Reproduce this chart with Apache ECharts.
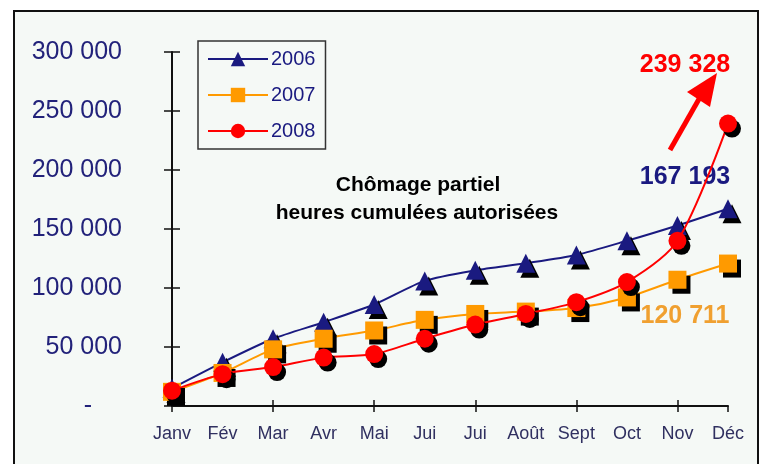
<!DOCTYPE html>
<html>
<head>
<meta charset="utf-8">
<script src="https://cdn.jsdelivr.net/npm/echarts@6/dist/echarts.min.js"></script>
<style>
html,body{margin:0;padding:0;background:#fff;}
#c{width:766px;height:464px;}
</style>
</head>
<body>
<div id="c"></div>
<script>
var months = ['Janv','Fév','Mar','Avr','Mai','Jui','Jui','Août','Sept','Oct','Nov','Déc'];
var s2006 = [15000, 37000, 57000, 71000, 86000, 106000, 115000, 121000, 128000, 140000, 153000, 167193];
var s2007 = [12000, 28000, 48000, 57000, 64000, 73000, 78000, 80000, 83000, 92000, 107000, 120711];
var s2008 = [13000, 27000, 33000, 41000, 44000, 57000, 69000, 78000, 88000, 105000, 140000, 239328];
var seriesNames = ['2006','2007','2008'];
var yTicks = [0, 50000, 100000, 150000, 200000, 250000, 300000];

var NAVY = '#1a1a80', ORANGE = '#ff9a00', RED = '#ff0000';
var sans = '"Liberation Sans", Arial, sans-serif';

function fmt(v){
  if (v === 0) return '{d|-}';
  var s = String(v);
  return s.slice(0, s.length-3) + ' ' + s.slice(-3);
}
var shadow = {shadowColor:'#000', shadowOffsetX:4, shadowOffsetY:5, shadowBlur:0};

var chart = echarts.init(document.getElementById('c'), null, {renderer:'canvas'});
chart.setOption({
  backgroundColor:'#ffffff',
  animation:false,
  grid:{left:172, right:38, top:52, bottom:58},
  legend:{
    orient:'vertical', left:198, top:41,
    data:seriesNames,
    itemWidth:60, itemHeight:18, itemGap:16,
    padding:[8,10,8,9],
    borderColor:'#333', borderWidth:1.5,
    textStyle:{color:NAVY, fontFamily:sans, fontSize:20, padding:[0,0,0,-2]}
  },
  xAxis:[{
    type:'category', data:months, boundaryGap:false,
    axisLine:{lineStyle:{color:'#111', width:2}},
    axisTick:{show:true, interval:1, length:6, lineStyle:{color:'#111', width:1.5}},
    axisLabel:{interval:0, color:'#303060', fontFamily:sans, fontSize:18, margin:19},
    splitLine:{show:false}
  },{
    type:'category', data:months, boundaryGap:false, position:'bottom',
    axisLine:{show:false},
    axisTick:{show:true, inside:true, interval:1, length:6, lineStyle:{color:'#111', width:1.5}},
    axisLabel:{show:false}, splitLine:{show:false}
  }],
  yAxis:[{
    type:'value', min:0, max:300000, interval:50000,
    axisLine:{show:true, lineStyle:{color:'#111', width:2}},
    axisTick:{show:true, length:8, lineStyle:{color:'#111', width:1.5}},
    axisLabel:{color:'#22227a', fontFamily:sans, fontSize:25, margin:50,
      formatter:fmt, rich:{d:{fontSize:25, color:'#22227a', padding:[0,30,0,0], fontFamily:sans}}},
    splitLine:{show:false}
  },{
    type:'value', min:0, max:300000, interval:50000, position:'left',
    axisLine:{show:false},
    axisTick:{show:true, inside:true, length:8, lineStyle:{color:'#111', width:1.5}},
    axisLabel:{show:false}, splitLine:{show:false}
  }],
  series:[
    {name:seriesNames[0], type:'line', data:s2006, smooth:0.25, symbol:'triangle', symbolSize:19,
     lineStyle:{color:NAVY, width:2}, itemStyle:Object.assign({color:NAVY}, shadow), z:3},
    {name:seriesNames[1], type:'line', data:s2007, smooth:0.25, symbol:'rect', symbolSize:18,
     lineStyle:{color:ORANGE, width:2}, itemStyle:Object.assign({color:ORANGE}, shadow), z:4},
    {name:seriesNames[2], type:'line', data:s2008, smooth:0.3, symbol:'circle', symbolSize:18,
     lineStyle:{color:RED, width:2}, itemStyle:Object.assign({color:RED}, shadow), z:5}
  ],
  graphic:[
    {type:'rect', z:-10, silent:true, shape:{x:14, y:11, width:744, height:470},
     style:{fill:'#f5f9f6', stroke:'#111', lineWidth:2}},
    {type:'text', style:{text:'Chômage partiel', x:418, y:185, align:'center', verticalAlign:'middle', font:'bold 21px '+sans, fill:'#000'}},
    {type:'text', style:{text:'heures cumulées autorisées', x:417, y:213, align:'center', verticalAlign:'middle', font:'bold 21px '+sans, fill:'#000'}},
    {type:'text', style:{text:'239 328', x:685, y:65, align:'center', verticalAlign:'middle', font:'bold 25px '+sans, fill:RED}},
    {type:'text', style:{text:'167 193', x:685, y:177, align:'center', verticalAlign:'middle', font:'bold 25px '+sans, fill:NAVY}},
    {type:'text', style:{text:'120 711', x:685, y:316, align:'center', verticalAlign:'middle', font:'bold 25px '+sans, fill:'#f0a030'}},
    {type:'line', shape:{x1:670, y1:150, x2:703, y2:92}, style:{stroke:RED, lineWidth:5}},
    {type:'polygon', shape:{points:[[717,73],[687,92],[710,107]]}, style:{fill:RED}}
  ]
});
</script>
</body>
</html>
